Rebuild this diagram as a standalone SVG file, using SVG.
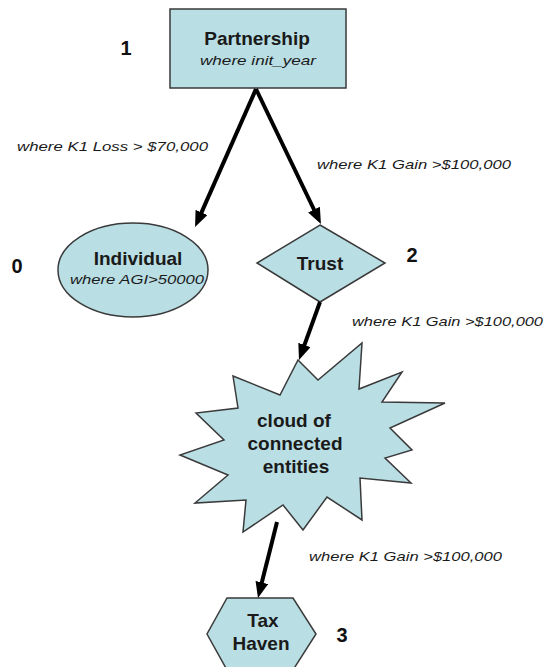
<svg xmlns="http://www.w3.org/2000/svg" width="553" height="667" viewBox="0 0 553 667">
  <style>
    .shape { fill: #b9dee4; stroke: #3a3a3a; stroke-width: 1.5; }
    .title { font-family: "Liberation Sans", Arial, sans-serif; font-weight: bold; font-size: 19px; fill: #1a1a1a; text-anchor: middle; }
    .sub { font-family: "Liberation Sans", Arial, sans-serif; font-style: italic; font-size: 13.5px; fill: #1a1a1a; text-anchor: middle; }
    .lbl { font-family: "Liberation Sans", Arial, sans-serif; font-style: italic; font-size: 13.5px; fill: #1a1a1a; }
    .num { font-family: "Liberation Sans", Arial, sans-serif; font-weight: bold; font-size: 20px; fill: #111; text-anchor: middle; }
    .conn { stroke: #000; stroke-width: 4; fill: none; marker-end: url(#arrow); }
  </style>
  <defs>
    <marker id="arrow" markerUnits="userSpaceOnUse" markerWidth="17" markerHeight="14" refX="6" refY="6.5" orient="auto">
      <path d="M0,0 L16,6.5 L0,13 z" fill="#000"/>
    </marker>
  </defs>
  <rect width="553" height="667" fill="#ffffff"/>

  <g id="node-partnership">
    <rect class="shape" x="170" y="9" width="176" height="79"/>
    <text class="title" x="257" y="45">Partnership</text>
    <text class="sub" x="258" y="65" textLength="116" lengthAdjust="spacingAndGlyphs">where init_year</text>
  </g>

  <g id="node-individual">
    <ellipse class="shape" cx="133" cy="270" rx="75" ry="47"/>
    <text class="title" x="138" y="265">Individual</text>
    <text class="sub" x="137" y="284" textLength="134" lengthAdjust="spacingAndGlyphs">where AGI&gt;50000</text>
  </g>

  <g id="node-trust">
    <polygon class="shape" points="320,225 385,263 320,302 257,263"/>
    <text class="title" x="320" y="270">Trust</text>
  </g>

  <g id="node-cloud">
    <polygon class="shape" points="298,360 318,380 362,343 359,389 402,372 382,402 445,403 390,428 412,450 385,458 411,483 360,478 362,520 327,497 303,530 283,505 243,532 246,500 195,503 228,475 180,455 224,440 196,413 238,408 233,376 280,395"/>
    <text class="title" x="294" y="427">cloud of</text>
    <text class="title" x="295" y="450">connected</text>
    <text class="title" x="296" y="473">entities</text>
  </g>

  <g id="node-taxhaven">
    <polygon class="shape" points="227,598 293,598 316,634 293,670 227,670 207,634"/>
    <text class="title" x="263" y="627">Tax</text>
    <text class="title" x="261" y="650">Haven</text>
  </g>

  <g id="labels">
    <text class="num" x="126" y="55">1</text>
    <text class="num" x="17" y="273">0</text>
    <text class="num" x="412" y="262">2</text>
    <text class="num" x="342" y="642">3</text>
    <text class="lbl" x="17" y="151" textLength="191" lengthAdjust="spacingAndGlyphs">where K1 Loss &gt; $70,000</text>
    <text class="lbl" x="317" y="169" textLength="194" lengthAdjust="spacingAndGlyphs">where K1 Gain &gt;$100,000</text>
    <text class="lbl" x="352" y="326" textLength="191" lengthAdjust="spacingAndGlyphs">where K1 Gain &gt;$100,000</text>
    <text class="lbl" x="309" y="561" textLength="193" lengthAdjust="spacingAndGlyphs">where K1 Gain &gt;$100,000</text>
  </g>

  <g id="connectors">
    <line class="conn" x1="256" y1="89" x2="199.1" y2="217.9"/>
    <line class="conn" x1="256" y1="89" x2="316.6" y2="215"/>
    <line class="conn" x1="320" y1="302" x2="302.4" y2="350.6"/>
    <line class="conn" x1="277" y1="522" x2="260.4" y2="588.3"/>
  </g>
</svg>
